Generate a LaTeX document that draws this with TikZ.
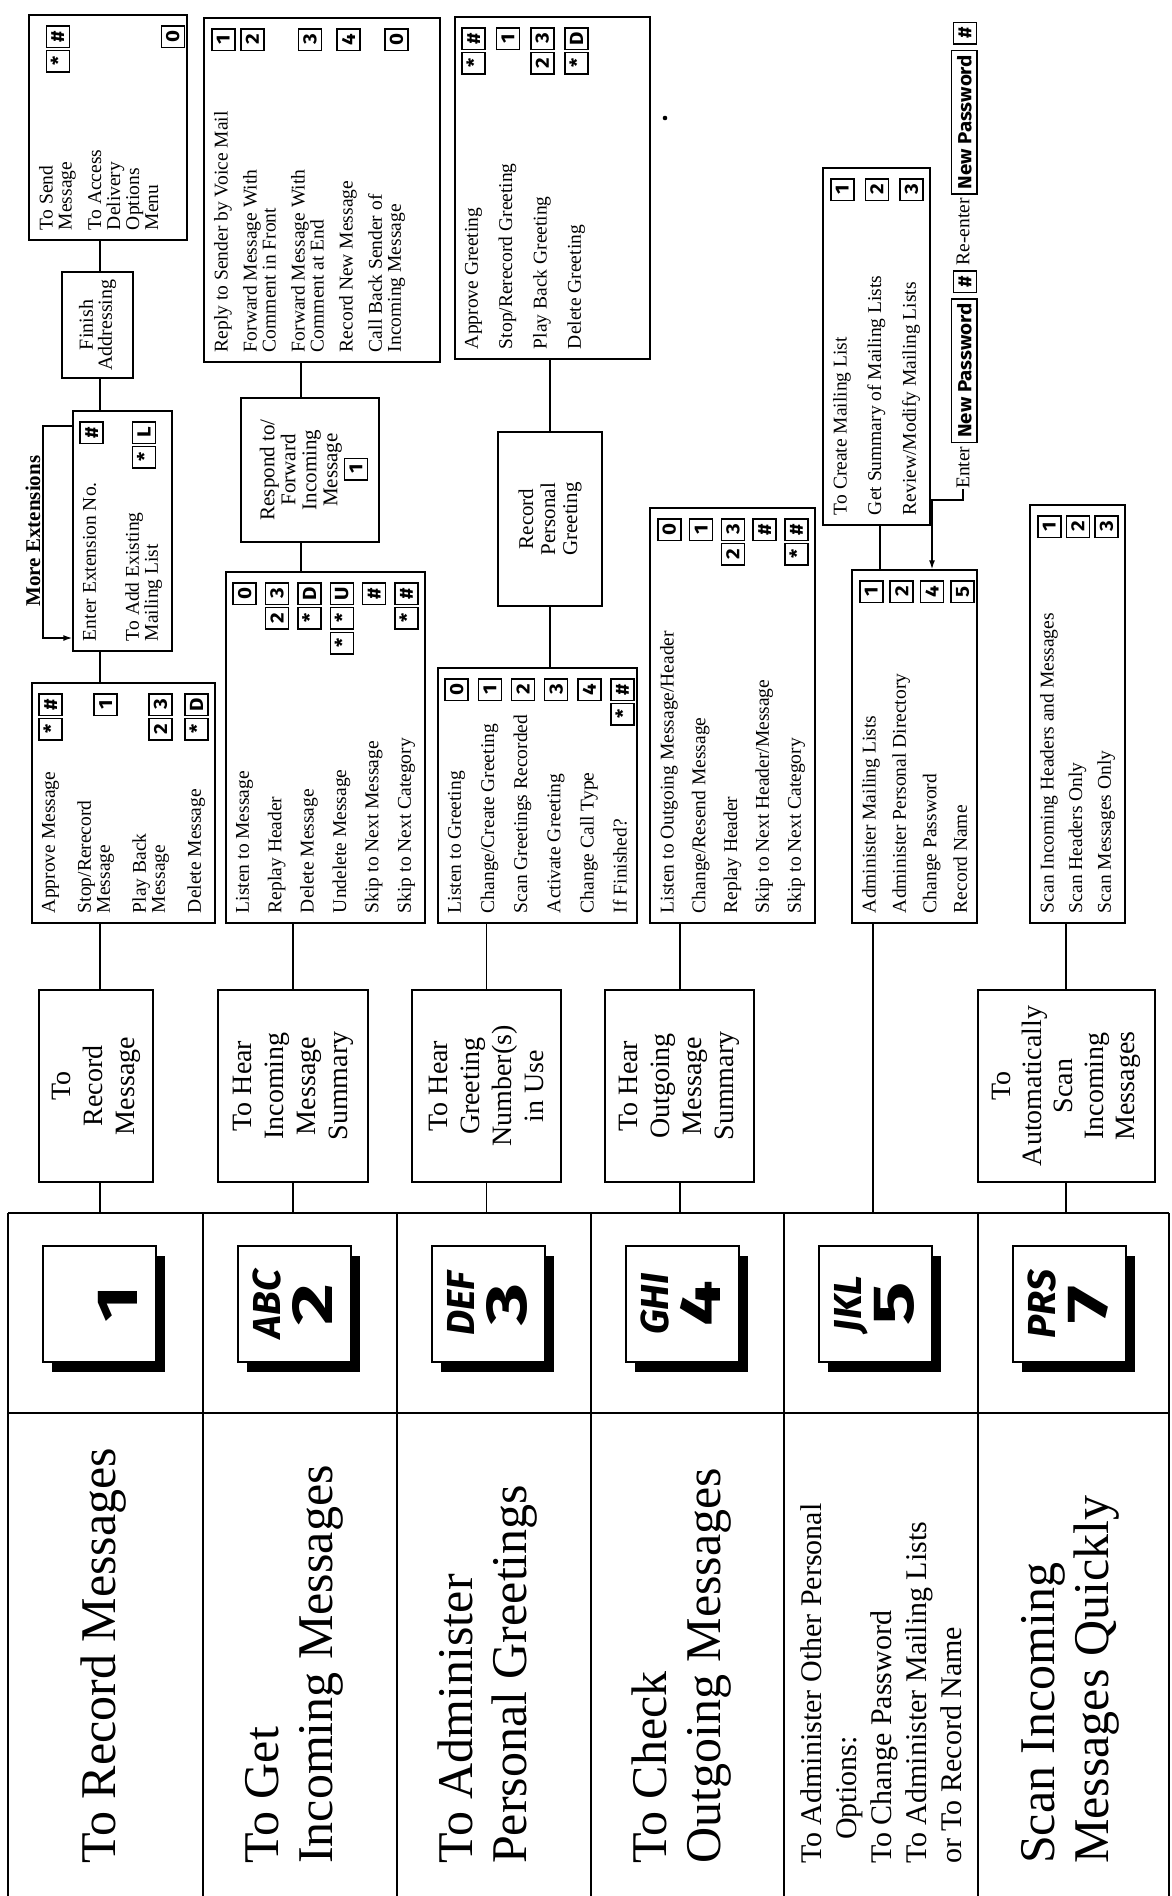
\documentclass[tikz,border=0pt]{standalone}
\usepackage{fontspec}
\setmainfont{Liberation Serif}
\newfontfamily\keyfnt{Fira Sans}[FakeStretch=1.08]
\newfontfamily\phfnt{Fira Sans}
\newfontfamily\phdig{Fira Sans}[FakeStretch=1.4]
\usetikzlibrary{arrows.meta}

\newcommand\kf{\keyfnt\bfseries\fontsize{19}{19}\selectfont}
\newcommand\st{\raisebox{-0.25em}{*}}
\newcommand\K[1]{\kern1.8pt\smash{\raisebox{-6.5pt}{\setlength\fboxsep{0pt}\setlength\fboxrule{1.5pt}\fbox{\vbox to 21.5pt{\vss\hbox to 20pt{\hss\kf #1\hss}\vss}}}}}
\newcommand\up[1]{\raisebox{9.5pt}{#1}}
\newcommand\NP{\smash{\raisebox{-7pt}{\setlength\fboxsep{0pt}\setlength\fboxrule{1.5pt}\fbox{\vbox to 24pt{\vss\hbox{\kern4pt\keyfnt\bfseries\fontsize{19}{19}\selectfont New Password\kern4pt}\vss}}}}}
\newcommand\otext{\fontsize{19.5}{19}\selectfont\setlength\parindent{0pt}\setlength\parskip{0pt}}
% name, cx, cy, xsize, ysize, trailing blank, content
\newcommand\obox[7]{\node[obx, minimum width=#5pt, minimum height=#4pt] (#1) at (#2,#3)
 {\parbox[c][\dimexpr #4pt - 20pt\relax][s]{\dimexpr #5pt - 20pt\relax}{\otext #7\par\vspace*{#6pt}}};}
\newcommand\phone[3]{%
 \fill (#1+44,1256) rectangle (#1+157,1372);
 \draw[line width=1.4pt, fill=white] (#1+35,1246) rectangle (#1+148,1362);
 \node[rotate=90, anchor=base, inner sep=0pt, font=\phfnt\bfseries\itshape\fontsize{39}{39}\selectfont] at (#1+77,1304) {#2};
 \node[rotate=90, anchor=base, inner sep=0pt, font=\phdig\bfseries\fontsize{58}{58}\selectfont] at (#1+129,1304) {#3};}

\tikzset{
 obx/.style={draw, line width=1.4pt, inner sep=0pt, rotate=90},
 sbox/.style={draw, line width=1.4pt, rotate=90, align=center, inner sep=0pt, font=\fontsize{28}{32}\selectfont},
 cbox/.style={draw, line width=1.4pt, rotate=90, align=center, inner sep=0pt},
 hd/.style={rotate=90, anchor=west, align=left, inner sep=0pt},
 ln/.style={line width=1.4pt},
 frm/.style={line width=1.5pt},
 arr/.style={line width=1.4pt, -{Latex[length=9pt,width=6pt]}},
}

\begin{document}
\begin{tikzpicture}[x=1pt,y=-1pt]
\useasboundingbox (0,0) rectangle (1172,1896);

% ---------- frame ----------
\draw[frm] (8,1213) -- (1169,1213);
\draw[frm] (8,1413) -- (1169,1413);
\foreach \xx in {8,203,397,591,784,978,1169} {\draw[frm] (\xx,1213) -- (\xx,1896);}

% ---------- phone keys ----------
\phone{8}{}{1}
\phone{203}{ABC}{2}
\phone{397}{DEF}{3}
\phone{591}{GHI}{4}
\phone{784}{JKL}{5}
\phone{978}{PRS}{7}

% ---------- headings ----------
\node[hd, font=\fontsize{50}{54}\selectfont] (h1) at (103.5,1864) {To Record Messages};
\node[hd, font=\fontsize{50}{54}\selectfont] (h2) at (294,1864) {To Get\\Incoming Messages};
\node[hd, font=\fontsize{50}{54}\selectfont] (h3) at (488,1864) {To Administer\\Personal Greetings};
\node[hd, font=\fontsize{50}{54}\selectfont] (h4) at (682,1864) {To Check\\Outgoing Messages};
\node[hd, font=\fontsize{30}{35}\selectfont] (h5) at (881,1864) {To Administer Other Personal\\\hspace*{24pt}Options:\\To Change Password\\To Administer Mailing Lists\\or To Record Name};
\node[hd, font=\fontsize{50}{54}\selectfont] (h6) at (1070,1864) {Scan Incoming\\Messages Quickly};

% ---------- second level boxes ----------
\node[sbox, minimum width=192pt, minimum height=114pt] (torecord) at (96,1086) {To\\Record\\Message};
\node[sbox, minimum width=192pt, minimum height=150pt] (tohearinc) at (293,1086) {To Hear\\Incoming\\Message\\Summary};
\node[sbox, minimum width=192pt, minimum height=149pt] (tohearg) at (486.5,1086) {To Hear\\Greeting\\Number(s)\\in Use};
\node[sbox, minimum width=192pt, minimum height=149pt] (tohearo) at (679.5,1086) {To Hear\\Outgoing\\Message\\Summary};
\node[sbox, minimum width=192pt, minimum height=177pt, font=\fontsize{28}{31}\selectfont] (autoscan) at (1066.5,1086) {To\\Automatically\\Scan\\Incoming\\Messages};

% ---------- column 1 ----------
\obox{tosend}{108}{127.5}{158}{225}{0}{To Send\\Message\hfill\up{\K\st\K\#}\par\vfill
 To Access\\Delivery\\Options\\Menu\\\mbox{}\hfill\K0}
\node[cbox, minimum width=106pt, minimum height=71pt, font=\fontsize{20}{19}\selectfont] (finish) at (97.5,325) {Finish\\Addressing};
\obox{enterext}{122.5}{531}{99}{240}{0}{Enter Extension No.\hfill\K\#\par\vfill
 To Add Existing\\Mailing List\hfill\up{\K\st\K{L}}}
\obox{approve}{123.5}{803}{183}{240}{0}{Approve Message\hfill\K\st\K\#\par\vfill
 Stop/Rerecord\\Message\hfill\K1\par\vfill
 Play Back\\Message\hfill\K2\K3\par\vfill
 Delete Message\hfill\K\st\K{D}}
\node[rotate=90, anchor=base, inner sep=0pt, font=\bfseries\fontsize{21}{21}\selectfont] (morex) at (40,531) {More Extensions};
\coordinate (me1) at (43,426);
\coordinate (me2) at (43,638);
\draw[arr] (me1 -| enterext.north) -- (me1) -- (me2) -- (me2 -| enterext.north);

% ---------- column 2 ----------
\obox{reply}{322}{190}{236}{344}{25}{Reply to Sender by Voice Mail\hfill\K1\par\vfill
 Forward Message With\hfill\K2\\Comment in Front\par\vfill
 Forward Message With\\Comment at End\hfill\up{\K3}\par\vfill
 Record New Message\hfill\K4\par\vfill
 Call Back Sender of\\Incoming Message\hfill\K0}
\node[cbox, minimum width=144pt, minimum height=138pt, font=\fontsize{21}{21}\selectfont] (respond) at (310,470) {Respond to/\\Forward\\Incoming\\Message\\[2pt]\K1};
\obox{listen}{325.5}{747.5}{199}{351}{0}{Listen to Message\hfill\K0\par\vfill
 Replay Header\hfill\K2\K3\par\vfill
 Delete Message\hfill\K\st\K{D}\par\vfill
 Undelete Message\hfill\K\st\K\st\K{U}\par\vfill
 Skip to Next Message\hfill\K\#\par\vfill
 Skip to Next Category\hfill\K\st\K\#}

% ---------- column 3 ----------
\obox{apprgreet}{552.5}{188}{195}{342}{55}{Approve Greeting\hfill\K\st\K\#\par\vfill
 Stop/Rerecord Greeting\hfill\K1\par\vfill
 Play Back Greeting\hfill\K2\K3\par\vfill
 Delete Greeting\hfill\K\st\K{D}}
\node[cbox, minimum width=174pt, minimum height=104pt, font=\fontsize{21}{22}\selectfont] (recpers) at (550,519) {Record\\Personal\\Greeting};
\obox{listengreet}{537.5}{795.5}{199}{255}{0}{Listen to Greeting\hfill\K0\par\vfill
 Change/Create Greeting\hfill\K1\par\vfill
 Scan Greetings Recorded\hfill\K2\par\vfill
 Activate Greeting\hfill\K3\par\vfill
 Change Call Type\hfill\K4\par\vfill
 If Finished?\hfill\K\st\K\#}

% ---------- column 4 ----------
\obox{listenout}{732.5}{715.5}{165}{415}{0}{Listen to Outgoing Message/Header\hfill\K0\par\vfill
 Change/Resend Message\hfill\K1\par\vfill
 Replay Header\hfill\K2\K3\par\vfill
 Skip to Next Header/Message\hfill\K\#\par\vfill
 Skip to Next Category\hfill\K\st\K\#}

% ---------- column 5 ----------
\obox{create}{876.5}{346.5}{107}{357}{0}{To Create Mailing List\hfill\K1\par\vfill
 Get Summary of Mailing Lists\hfill\K2\par\vfill
 Review/Modify Mailing Lists\hfill\K3}
\obox{admin}{914.5}{746.5}{125}{353}{0}{Administer Mailing Lists\hfill\K1\par\vfill
 Administer Personal Directory\hfill\K2\par\vfill
 Change Password\hfill\K4\par\vfill
 Record Name\hfill\K5}
\node[rotate=90, anchor=west, inner sep=0pt, font=\fontsize{19.5}{19}\selectfont] (pw) at (963,489) {Enter\,\NP\,\K\#\ Re-enter\,\NP\,\K\#};
\coordinate (ea) at (932,500);
\draw[arr] (pw.west) -- (pw.west |- ea) -- (ea) -- (ea |- admin.east);

% ---------- column 6 ----------
\obox{scan}{1077.5}{714}{95}{418}{0}{Scan Incoming Headers and Messages\hfill\K1\par\vfill
 Scan Headers Only\hfill\K2\par\vfill
 Scan Messages Only\hfill\K3}

% ---------- connectors ----------
\coordinate (x1) at (100,0);
\coordinate (x2a) at (301,0);
\coordinate (x2b) at (293,0);
\coordinate (x3a) at (550,0);
\coordinate (x3b) at (486.5,0);
\coordinate (x4) at (680,0);
\coordinate (x5a) at (880,0);
\coordinate (x5b) at (873,0);
\coordinate (x6) at (1066,0);
\coordinate (ftop) at (0,1213);

\draw[ln] (x1 |- tosend.west) -- (x1 |- finish.east);
\draw[ln] (x1 |- finish.west) -- (x1 |- enterext.east);
\draw[ln] (x1 |- enterext.west) -- (x1 |- approve.east);
\draw[ln] (x1 |- approve.west) -- (x1 |- torecord.east);
\draw[ln] (x1 |- torecord.west) -- (x1 |- ftop);

\draw[ln] (x2a |- reply.west) -- (x2a |- respond.east);
\draw[ln] (x2a |- respond.west) -- (x2a |- listen.east);
\draw[ln] (x2b |- listen.west) -- (x2b |- tohearinc.east);
\draw[ln] (x2b |- tohearinc.west) -- (x2b |- ftop);

\draw[ln] (x3a |- apprgreet.west) -- (x3a |- recpers.east);
\draw[ln] (x3a |- recpers.west) -- (x3a |- listengreet.east);
\draw[ln] (x3b |- listengreet.west) -- (x3b |- tohearg.east);
\draw[ln] (x3b |- tohearg.west) -- (x3b |- ftop);

\draw[ln] (x4 |- listenout.west) -- (x4 |- tohearo.east);
\draw[ln] (x4 |- tohearo.west) -- (x4 |- ftop);

\draw[ln] (x5a |- create.west) -- (x5a |- admin.east);
\draw[ln] (x5b |- admin.west) -- (x5b |- ftop);

\draw[ln] (x6 |- scan.west) -- (x6 |- autoscan.east);
\draw[ln] (x6 |- autoscan.west) -- (x6 |- ftop);

\fill (665,118) circle (2.3pt);
\end{tikzpicture}
\end{document}
